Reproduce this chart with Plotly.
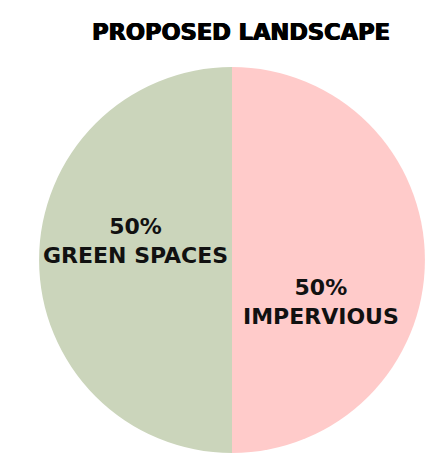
import plotly.graph_objects as go

labels = ["IMPERVIOUS", "GREEN SPACES"]
values = [50, 50]
colors = ["#ffcbca", "#cbd5bb"]
title_text = "PROPOSED LANDSCAPE"

W, H = 425, 455

def px(x):
    return x / W

def py(y):
    return 1 - y / H

fig = go.Figure(go.Pie(
    labels=labels,
    values=values,
    marker=dict(colors=colors, line=dict(width=0)),
    sort=False,
    direction="clockwise",
    rotation=0,
    textinfo="none",
    domain=dict(x=[px(39), 1.0], y=[py(453), py(67)]),
    showlegend=False,
    hoverinfo="skip",
))

total = sum(values)
label_pos = {"GREEN SPACES": (135, 241), "IMPERVIOUS": (321, 302)}
for lab, val in zip(labels, values):
    x, y = label_pos[lab]
    fig.add_annotation(
        text=f"{val / total:.0%}<br>{lab}",
        x=px(x), y=py(y), xref="paper", yref="paper",
        xanchor="center", yanchor="middle", showarrow=False, align="center",
        font=dict(family="DejaVu Sans", size=22, color="#111111", weight=700),
    )

fig.update_layout(
    width=W, height=H,
    margin=dict(l=0, r=0, t=0, b=0),
    paper_bgcolor="white",
    title=dict(text=title_text, x=px(241), xanchor="center", y=py(32), yanchor="middle",
               font=dict(family="DejaVu Sans", size=22.5, color="#000000", weight=700,
                         shadow="0.6px 0 0 #000, -0.6px 0 0 #000")),
)
fig.write_html("out.html", config={"displayModeBar": False},
               post_script="document.body.style.margin='0px';document.body.style.overflow='hidden';")
